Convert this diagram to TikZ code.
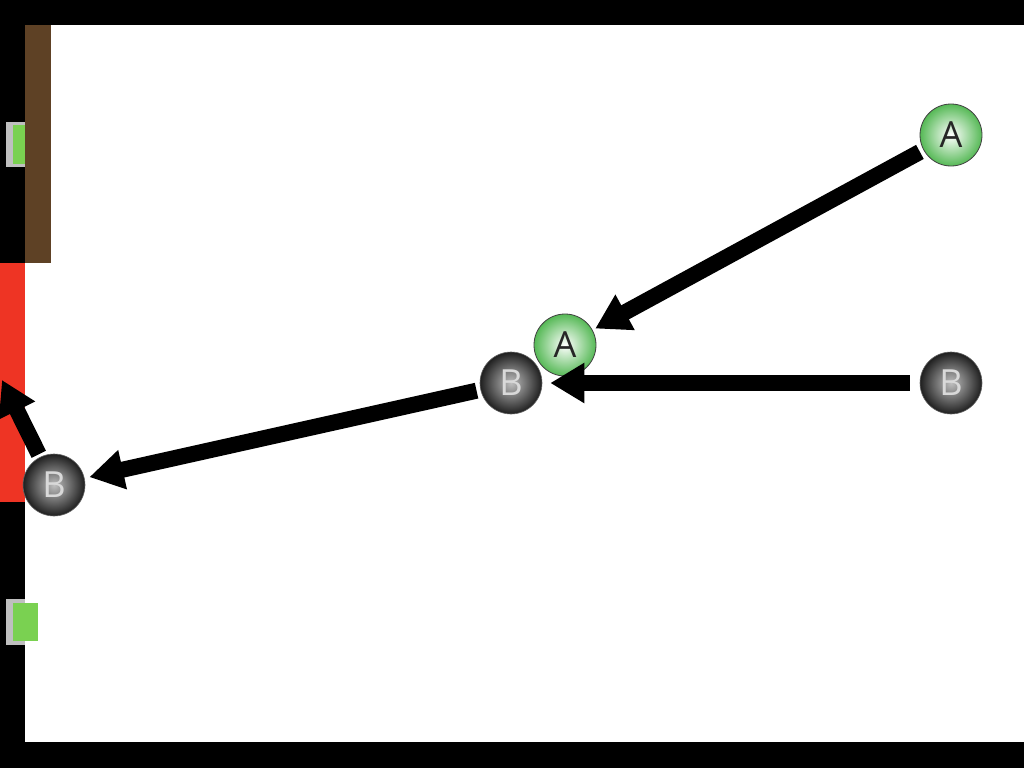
\documentclass[tikz,border=0pt]{standalone}
\usepackage{fontspec}
\setsansfont{Open Sans}
\usetikzlibrary{arrows.meta}
\definecolor{brownbar}{HTML}{5E4125}
\definecolor{redbar}{HTML}{EE3424}
\definecolor{lgreen}{HTML}{7AD151}
\definecolor{ballgreen}{HTML}{56B956}
\tikzset{
  ballA/.style={circle, minimum size=62pt, inner sep=0pt, draw=black!75, line width=0.8pt,
    shading=radial, inner color=white, outer color=ballgreen,
    font=\sffamily\fontsize{36}{36}\selectfont, text=black!85},
  ballB/.style={circle, minimum size=62pt, inner sep=0pt, draw=black!60, line width=0.6pt,
    shading=radial, inner color=black!25, outer color=black!88,
    font=\sffamily\fontsize{36}{36}\selectfont, text=black!15},
  bigarrow/.style={line width=16pt, -{Triangle[length=34pt,width=38pt]}},
}
\begin{document}
\begin{tikzpicture}[x=1pt,y=-1pt]
\useasboundingbox (0,0) rectangle (1024,768);
\fill[white] (0,0) rectangle (1024,768);
% frame
\fill[black] (0,0) rectangle (1024,25);
\fill[black] (0,742) rectangle (1024,768);
\fill[black] (0,0) rectangle (25,768);
% bars
\fill[brownbar] (25,25) rectangle (51,263);
\fill[redbar] (0,263) rectangle (25,502);
% green tabs
\fill[black!25] (6,122) rectangle (25,167);
\fill[lgreen] (13,125) rectangle (25,164);
\fill[black!25] (6,599) rectangle (25,645);
\fill[lgreen] (13,603) rectangle (38,641);
% balls
\node[ballA] (Atop) at (951,135) {A};
\node[ballB] (Bmid) at (511,383) {B};
\node[ballA] (Amid) at (565,345) {A};
\node[ballB] (Bright) at (951,383) {B};
\node[ballB] (Bleft) at (54,485) {B};
\coordinate (wall) at (2,380);
% arrows
\draw[bigarrow, shorten <=4pt, shorten >=3pt] (Atop) -- (Amid);
\draw[bigarrow, shorten <=10pt, shorten >=8pt] (Bright) -- (Bmid);
\draw[bigarrow, shorten <=4pt, shorten >=5pt] (Bmid) -- (Bleft);
\draw[bigarrow, shorten <=3pt] (Bleft) -- (wall);
\end{tikzpicture}
\end{document}
